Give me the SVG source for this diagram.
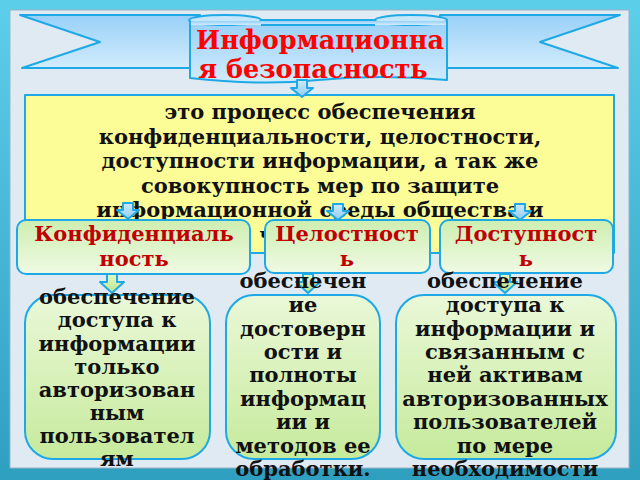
<svg xmlns="http://www.w3.org/2000/svg" width="640" height="480" viewBox="0 0 640 480">
<defs>
<linearGradient id="frameG" x1="0" y1="0" x2="0" y2="1"><stop offset="0" stop-color="#5ccfea"/><stop offset="1" stop-color="#2f9fc0"/></linearGradient>
<linearGradient id="bannerG" x1="0" y1="0" x2="0" y2="1"><stop offset="0" stop-color="#98d0f8"/><stop offset="1" stop-color="#d2ecfc"/></linearGradient>
<linearGradient id="headG" x1="0" y1="0" x2="0" y2="1"><stop offset="0" stop-color="#cdeeb0"/><stop offset="1" stop-color="#effae4"/></linearGradient>
<linearGradient id="boxG" x1="0" y1="0" x2="0" y2="1"><stop offset="0" stop-color="#eaf8d8"/><stop offset="1" stop-color="#c6ea9c"/></linearGradient>
<linearGradient id="arrB" x1="0" y1="0" x2="0" y2="1"><stop offset="0" stop-color="#cfe9fb"/><stop offset="1" stop-color="#8fcdf6"/></linearGradient>
<linearGradient id="arrG" x1="0" y1="0" x2="0" y2="1"><stop offset="0" stop-color="#e6f7c8"/><stop offset="1" stop-color="#b8e48a"/></linearGradient>
</defs>
<style>
.ln{stroke:#1ea9e6;stroke-width:2;stroke-linejoin:round}
.t{font-family:"DejaVu Serif","Liberation Serif",serif;font-weight:bold;text-anchor:middle}
.body{font-size:21px;fill:#111}
.head{font-size:21px;fill:#c00000}
.title{font-size:25.5px;fill:#ff0000}
</style>
<!-- frame -->
<rect x="0" y="0" width="640" height="480" fill="url(#frameG)"/>
<rect x="10" y="10" width="619" height="458" fill="#e0eaf3" stroke="#9ab4c4" stroke-width="1"/>

<g id="banner">
<polygon class="ln" points="20,15 200,15 200,68 22,68 100,42" fill="url(#bannerG)"/>
<polygon class="ln" points="620,15 440,15 440,68 618,68 540,42" fill="url(#bannerG)"/>
<path class="ln" d="M190,20 L190,78 Q260,86 318,80 Q380,74 447,80 L447,20 Z" fill="url(#bannerG)"/>
<ellipse class="ln" cx="225" cy="20" rx="36" ry="5" fill="#c6e6fb"/>
<ellipse class="ln" cx="411" cy="20" rx="36" ry="5" fill="#c6e6fb"/>
<path d="M191,21 L446,21 L446,25 L191,25 Z" fill="url(#bannerG)" stroke="none"/>
<path class="ln" d="M261,25 L375,25" fill="none"/>
<text class="t title" x="320" y="49">Информационна</text>
<text class="t title" x="313" y="78">я безопасность</text>
</g>

<g id="definition">
<rect class="ln" x="25" y="95" width="589" height="158" fill="#fdfd98"/>
<text class="t body" x="320" y="119">это процесс обеспечения</text>
<text class="t body" x="320" y="144">конфиденциальности, целостности,</text>
<text class="t body" x="320" y="168">доступности информации, а так же</text>
<text class="t body" x="320" y="193">совокупность мер по защите</text>
<text class="t body" x="320" y="217">информационной среды общества и</text>
<text class="t body" x="320" y="242">человека.</text>
</g>

<g id="connectors">
<path class="ln" d="M297,80 L307,80 L307,88 L313,88 L302,97 L291,88 L297,88 Z" fill="url(#arrB)"/>
<path class="ln" d="M123,203 L133,203 L133,210 L139,210 L128,219 L117,210 L123,210 Z" fill="url(#arrB)"/>
<path class="ln" d="M333,204 L343,204 L343,211 L349,211 L338,220 L327,211 L333,211 Z" fill="url(#arrB)"/>
<path class="ln" d="M515,204 L525,204 L525,211 L531,211 L520,220 L509,211 L515,211 Z" fill="url(#arrB)"/>
<path class="ln" d="M107,274 L117,274 L117,282 L124,282 L112,293 L100,282 L107,282 Z" fill="url(#arrG)"/>
<path class="ln" d="M303,274 L313,274 L313,282 L320,282 L308,293 L296,282 L303,282 Z" fill="url(#arrG)"/>
<path class="ln" d="M500,274 L510,274 L510,282 L517,282 L505,293 L493,282 L500,282 Z" fill="url(#arrG)"/>
</g>

<g id="conf">
<rect class="ln" x="17" y="220" width="233" height="54" rx="9" fill="url(#headG)"/>
<text class="t head" x="134" y="241">Конфиденциаль</text>
<text class="t head" x="134" y="266">ность</text>
</g>
<g id="integ">
<rect class="ln" x="265" y="220" width="165" height="53" rx="9" fill="url(#headG)"/>
<text class="t head" x="347" y="241">Целостност</text>
<text class="t head" x="347" y="266">ь</text>
</g>
<g id="avail">
<rect class="ln" x="440" y="220" width="173" height="53" rx="9" fill="url(#headG)"/>
<text class="t head" x="526" y="241">Доступност</text>
<text class="t head" x="526" y="266">ь</text>
</g>

<g id="confDesc">
<rect class="ln" x="25" y="295" width="185" height="164" rx="28" fill="url(#boxG)"/>
<text class="t body" x="117"><tspan x="117" y="304">обеспечение</tspan><tspan x="117" y="327">доступа к</tspan><tspan x="117" y="351">информации</tspan><tspan x="117" y="374">только</tspan><tspan x="117" y="397">авторизован</tspan><tspan x="117" y="420">ным</tspan><tspan x="117" y="443">пользовател</tspan><tspan x="117" y="466">ям</tspan></text>
</g>
<g id="integDesc">
<rect class="ln" x="226" y="295" width="154" height="164" rx="28" fill="url(#boxG)"/>
<text class="t body" x="303"><tspan x="303" y="288">обеспечен</tspan><tspan x="303" y="312">ие</tspan><tspan x="303" y="336">достоверн</tspan><tspan x="303" y="359">ости и</tspan><tspan x="303" y="382">полноты</tspan><tspan x="303" y="406">информац</tspan><tspan x="303" y="429">ии и</tspan><tspan x="303" y="453">методов ее</tspan><tspan x="303" y="476">обработки.</tspan></text>
</g>
<g id="availDesc">
<rect class="ln" x="396" y="295" width="220" height="164" rx="28" fill="url(#boxG)"/>
<text class="t body" x="505"><tspan x="505" y="288">обеспечение</tspan><tspan x="505" y="312">доступа к</tspan><tspan x="505" y="336">информации и</tspan><tspan x="505" y="359">связанным с</tspan><tspan x="505" y="382">ней активам</tspan><tspan x="505" y="406">авторизованных</tspan><tspan x="505" y="429">пользователей</tspan><tspan x="505" y="453">по мере</tspan><tspan x="505" y="476">необходимости</tspan></text>
</g>
</svg>
